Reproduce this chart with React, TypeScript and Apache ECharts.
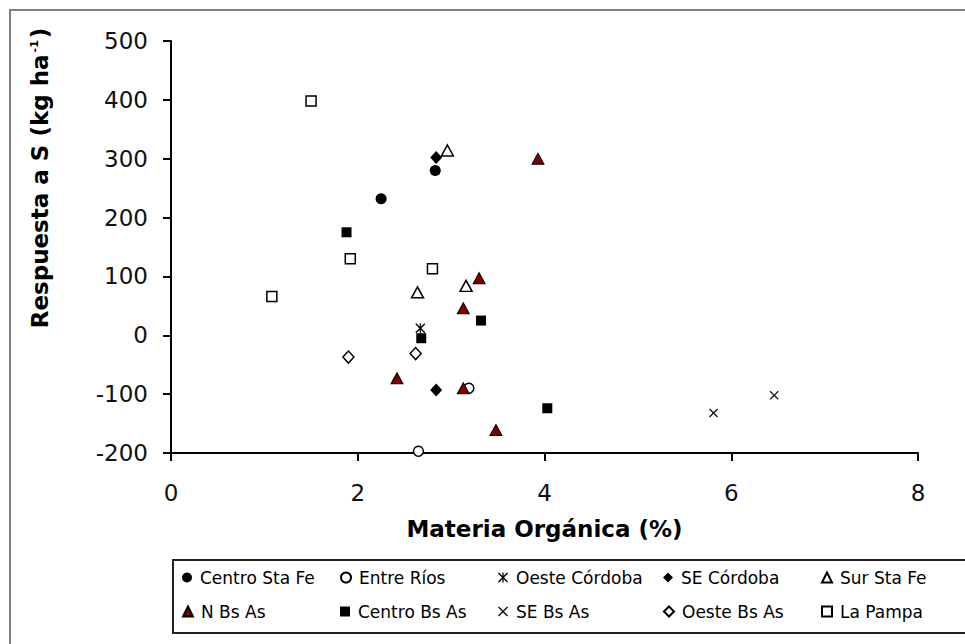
import React, { useEffect, useRef } from "react";
import * as echarts from "echarts";

// Soil organic matter (%) vs. yield response to sulfur (kg/ha), by region
const regionNames = [
  "Centro Sta Fe",
  "Entre Ríos",
  "Oeste Córdoba",
  "SE Córdoba",
  "Sur Sta Fe",
  "N Bs As",
  "Centro Bs As",
  "SE Bs As",
  "Oeste Bs As",
  "La Pampa",
];

const centroStaFe = [[2.25, 232], [2.83, 280]];
const entreRios = [[3.19, -90], [2.65, -197]];
const oesteCordoba = [[2.67, 12]];
const seCordoba = [[2.84, 302], [2.84, -93]];
const surStaFe = [[2.96, 314], [2.64, 73], [3.16, 84]];
const nBsAs = [[3.93, 300], [3.3, 97], [3.13, 46], [2.42, -73], [3.13, -90], [3.48, -161]];
const centroBsAs = [[1.88, 175], [3.32, 25], [2.68, -5], [4.03, -124]];
const seBsAs = [[5.81, -132], [6.46, -102]];
const oesteBsAs = [[1.9, -37], [2.62, -31]];
const laPampa = [[1.5, 398], [1.92, 130], [1.08, 66], [2.8, 113]];

const xRange = { min: 0, max: 8, step: 2 };
const yRange = { min: -200, max: 500, step: 100 };

const FONT = "DejaVu Sans";

// Marker shapes drawn as filled outlines
const X_MARK =
  "path://M1,0L5,4L9,0L10,1L6,5L10,9L9,10L5,6L1,10L0,9L4,5L0,1Z";
const STAR_MARK =
  "path://M1,0L5,4L9,0L10,1L6,5L10,9L9,10L5,6L1,10L0,9L4,5L0,1Z M4.4,0L5.6,0L5.6,10L4.4,10Z";

const open = { color: "#ffffff", borderColor: "#000000", borderWidth: 1.5, opacity: 1 };
const solid = { color: "#000000", borderWidth: 0, opacity: 1 };

const seriesStyles: Record<string, { symbol: string; size: number | number[]; itemStyle: any }> = {
  "Centro Sta Fe": { symbol: "circle", size: 11, itemStyle: solid },
  "Entre Ríos": { symbol: "circle", size: 10, itemStyle: open },
  "Oeste Córdoba": { symbol: STAR_MARK, size: 10, itemStyle: solid },
  "SE Córdoba": { symbol: "diamond", size: [12, 13], itemStyle: solid },
  "Sur Sta Fe": { symbol: "triangle", size: [12, 11], itemStyle: open },
  "N Bs As": {
    symbol: "triangle",
    size: [12, 11],
    itemStyle: { color: "#800000", borderColor: "#000000", borderWidth: 1, opacity: 1 },
  },
  "Centro Bs As": { symbol: "rect", size: 10, itemStyle: solid },
  "SE Bs As": { symbol: X_MARK, size: 9, itemStyle: { color: "#111111", borderWidth: 0, opacity: 1 } },
  "Oeste Bs As": { symbol: "diamond", size: [11, 12], itemStyle: open },
  "La Pampa": { symbol: "rect", size: 10, itemStyle: open },
};

const seriesData: Record<string, number[][]> = {
  "Centro Sta Fe": centroStaFe,
  "Entre Ríos": entreRios,
  "Oeste Córdoba": oesteCordoba,
  "SE Córdoba": seCordoba,
  "Sur Sta Fe": surStaFe,
  "N Bs As": nBsAs,
  "Centro Bs As": centroBsAs,
  "SE Bs As": seBsAs,
  "Oeste Bs As": oesteBsAs,
  "La Pampa": laPampa,
};

// Legend layout: 5 columns x 2 rows
const legendColumns = [182, 340, 498, 663, 821];
const legendRows = [569, 603];

export default function App() {
  const ref = useRef<HTMLDivElement>(null);

  useEffect(() => {
    if (!ref.current) return;
    const chart = echarts.init(ref.current, undefined, { renderer: "svg" });

    const legends = regionNames.map((name, i) => ({
      data: [name],
      left: legendColumns[i % 5],
      top: legendRows[Math.floor(i / 5)],
      padding: 0,
      itemWidth: 10,
      itemHeight: 10,
      itemGap: 0,
      selectedMode: false,
      textStyle: {
        fontFamily: FONT,
        fontSize: 17,
        color: "#000",
        padding: [0, 0, 0, 3],
      },
    }));

    chart.setOption({
      animation: false,
      backgroundColor: "#ffffff",
      grid: {
        left: 171,
        right: 47,
        top: 41,
        bottom: 191,
        containLabel: false,
        outerBoundsMode: "none",
      },
      xAxis: {
        type: "value",
        min: xRange.min,
        max: xRange.max,
        interval: xRange.step,
        name: "Materia Orgánica (%)",
        nameLocation: "middle",
        nameGap: 76,
        nameTextStyle: {
          fontFamily: FONT,
          fontSize: 23,
          fontWeight: "bold",
          color: "#000",
          verticalAlign: "middle",
        },
        axisLine: { onZero: false, lineStyle: { color: "#000", width: 2 } },
        axisTick: { show: true, length: 8, lineStyle: { color: "#000", width: 2 } },
        axisLabel: { fontFamily: FONT, fontSize: 23, color: "#111", margin: 28 },
        splitLine: { show: false },
      },
      yAxis: {
        type: "value",
        min: yRange.min,
        max: yRange.max,
        interval: yRange.step,
        axisLine: { show: true, onZero: false, lineStyle: { color: "#000", width: 2 } },
        axisTick: { show: true, length: 8, lineStyle: { color: "#000", width: 2 } },
        axisLabel: { fontFamily: FONT, fontSize: 23, color: "#111", margin: 23 },
        splitLine: { show: false },
      },
      legend: legends,
      graphic: [
        {
          type: "rect",
          silent: true,
          shape: { x: 10, y: 10, width: 1000, height: 700 },
          style: { fill: "none", stroke: "#808080", lineWidth: 2 },
          z: -10,
        },
        {
          type: "rect",
          silent: true,
          shape: { x: 173, y: 560, width: 1000, height: 73 },
          style: { fill: "none", stroke: "#222", lineWidth: 2 },
          z: -5,
        },
        {
          type: "text",
          x: 40,
          y: 178,
          rotation: Math.PI / 2,
          style: {
            text: "Respuesta a S (kg ha{sup|-1})",
            fontFamily: FONT,
            fontSize: 23,
            fontWeight: "bold",
            fill: "#000",
            align: "center",
            verticalAlign: "middle",
            rich: {
              sup: {
                fontFamily: FONT,
                fontSize: 11,
                fontWeight: "bold",
                fill: "#000",
                verticalAlign: "top",
                padding: [0, 2, 0, 2],
              },
            },
          },
        },
      ],
      series: regionNames.map((name) => ({
        name,
        type: "scatter",
        data: seriesData[name],
        symbol: seriesStyles[name].symbol,
        symbolSize: seriesStyles[name].size,
        itemStyle: seriesStyles[name].itemStyle,
        clip: false,
      })),
    });

    return () => chart.dispose();
  }, []);

  return (
    <div
      ref={ref}
      style={{ position: "fixed", left: 0, top: 0, width: 965, height: 644 }}
    />
  );
}
